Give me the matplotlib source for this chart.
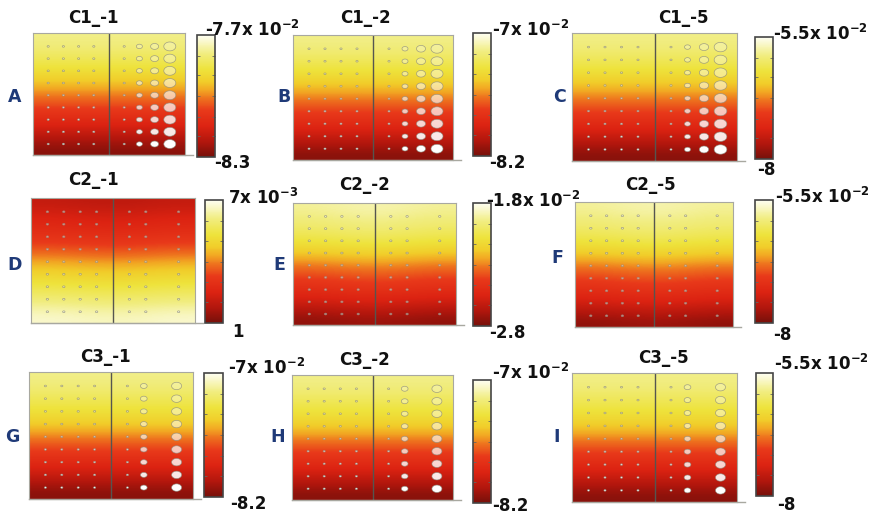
import numpy as np
import matplotlib
matplotlib.use('Agg')
import matplotlib.pyplot as plt
from matplotlib.colors import LinearSegmentedColormap, Normalize
from matplotlib.cm import ScalarMappable
from matplotlib.path import Path

W, H, DPI = 874, 519, 100

plt.rcParams['font.family'] = ['DejaVu Sans']
plt.rcParams['font.weight'] = 'bold'
plt.rcParams['mathtext.fontset'] = 'dejavusans'
plt.rcParams['mathtext.default'] = 'bf'

# panel text
titles = ['C1_-1', 'C1_-2', 'C1_-5',
          'C2_-1', 'C2_-2', 'C2_-5',
          'C3_-1', 'C3_-2', 'C3_-5']
letters = ['A', 'B', 'C', 'D', 'E', 'F', 'G', 'H', 'I']
cbar_max = ['-7.7x 10$^{-2}$', '-7x 10$^{-2}$', '-5.5x 10$^{-2}$',
            '7x 10$^{-3}$', '-1.8x 10$^{-2}$', '-5.5x 10$^{-2}$',
            '-7x 10$^{-2}$', '-7x 10$^{-2}$', '-5.5x 10$^{-2}$']
cbar_min = ['-8.3', '-8.2', '-8',
            '1', '-2.8', '-8',
            '-8.2', '-8.2', '-8']

# normalised field level down each plate (top edge -> bottom edge)
profile_c1 = [0.86, 0.82, 0.76, 0.69, 0.60, 0.50, 0.41, 0.32, 0.23, 0.13, 0.04]
profile_c2_1 = [0.18, 0.24, 0.29, 0.35, 0.43, 0.54, 0.64, 0.72, 0.80, 0.88, 0.95]
profile_c2 = [0.88, 0.84, 0.79, 0.72, 0.62, 0.50, 0.41, 0.33, 0.25, 0.15, 0.05]
profile_c3 = [0.86, 0.82, 0.76, 0.70, 0.62, 0.51, 0.41, 0.32, 0.23, 0.13, 0.04]
profiles = [profile_c1, profile_c1, profile_c1,
            profile_c2_1, profile_c2, profile_c2,
            profile_c3, profile_c3, profile_c3]
bows = [0.0, 0.0, 0.0, -0.03, 0.04, 0.04, 0.0, 0.0, 0.0]

# hole layout: column positions and hole widths (px)
hole_rows = [0.89, 0.79, 0.69, 0.59, 0.49, 0.39, 0.29, 0.19, 0.09]
c1_cols = [0.10, 0.20, 0.30, 0.40, 0.60, 0.70, 0.80, 0.90]
c2_cols = [0.10, 0.20, 0.30, 0.40, 0.60, 0.70, 0.90]
c3_cols = [0.10, 0.20, 0.30, 0.40, 0.60, 0.70, 0.90]
widths_c1_1 = [2.2, 2.2, 2.2, 2.2, 2.2, 6.0, 8.0, 12.0]
widths_c1_2 = [2.2, 2.2, 2.2, 2.2, 2.2, 6.0, 9.0, 12.0]
widths_c1_5 = [2.2, 2.2, 2.2, 2.2, 2.2, 6.0, 9.3, 12.7]
widths_c2 = [2.4, 2.4, 2.4, 2.4, 2.4, 2.4, 2.4]
widths_c3 = [2.2, 2.2, 2.2, 2.2, 2.2, 6.7, 10.0]
hole_cols = [c1_cols, c1_cols, c1_cols, c2_cols, c2_cols, c2_cols,
             c3_cols, c3_cols, c3_cols]
hole_widths = [widths_c1_1, widths_c1_2, widths_c1_5,
               widths_c2, widths_c2, widths_c2,
               widths_c3, widths_c3, widths_c3]

# pixel layout: plate box, colorbar box, title, letter, max label, min label
plate_box = [(33, 33, 185, 155), (293, 35, 453, 160), (572, 33, 737, 161),
             (31, 198, 195, 323), (293, 203, 456, 325), (575, 202, 733, 327),
             (29, 372, 193, 499), (292, 375, 453, 500), (572, 373, 737, 502)]
cbar_box = [(197, 35, 215, 157), (473, 33, 491, 156), (755, 37, 773, 159),
            (205, 200, 223, 323), (473, 203, 491, 326), (755, 200, 773, 323),
            (204, 373, 223, 497), (473, 380, 491, 503), (756, 373, 773, 496)]
title_xy = [(93, 18), (365, 18), (683, 18),
            (93, 180), (365, 185), (650, 185),
            (105, 357), (365, 360), (663, 358)]
letter_xy = [(15, 97), (284, 97), (559, 97),
             (15, 265), (279, 265), (557, 258),
             (12, 437), (278, 437), (557, 437)]
max_xy = [(205, 30), (492, 30), (773, 34),
          (228, 198), (486, 201), (775, 197),
          (228, 368), (492, 373), (774, 364)]
min_xy = [(214, 163), (489, 163), (757, 170),
          (232, 332), (489, 333), (773, 335),
          (230, 504), (492, 506), (777, 505)]

cmap = LinearSegmentedColormap.from_list('heat', [
    (0.00, '#76100a'), (0.12, '#b0160d'), (0.25, '#dc2312'),
    (0.38, '#e8391a'), (0.48, '#ee731e'), (0.55, '#f2a823'),
    (0.62, '#f1cd2a'), (0.72, '#eee33c'), (0.85, '#f1ed80'),
    (1.00, '#fefef4')])


def rect(box):
    x0, y0, x1, y1 = box
    return [x0 / W, 1 - y1 / H, (x1 - x0) / W, (y1 - y0) / H]


def fxy(x, y):
    return x / W, 1 - y / H


t = np.linspace(0, 2 * np.pi, 60)
hole_marker = Path(np.column_stack([1.35 * np.cos(t), np.sin(t)]), closed=True)

fig = plt.figure(figsize=(W / DPI, H / DPI), dpi=DPI)

for i in range(9):
    ax = fig.add_axes(rect(plate_box[i]))
    grid = np.add.outer(np.array(profiles[i]), bows[i] * np.array([0.0, 1.0, 0.0]))
    ax.imshow(grid, cmap=cmap, vmin=0, vmax=1, extent=[0, 1, 0, 1],
              aspect='auto', interpolation='bicubic', origin='upper')
    ax.set_xlim(0, 1)
    ax.set_ylim(0, 1)
    ax.set_xticks([])
    ax.set_yticks([])
    for s in ax.spines.values():
        s.set_color('#a8a8a0')
        s.set_linewidth(0.8)
    ax.axvline(0.5, color='#555550', lw=1.0)
    ax.plot([0, 1.05], [0, 0], color='#a8a8a0', lw=1.0, clip_on=False)

    # drilled holes
    xs, ys, sizes, faces = [], [], [], []
    for r, y in enumerate(hole_rows):
        alpha = 0.25 + 0.75 * r / (len(hole_rows) - 1)
        for x, w in zip(hole_cols[i], hole_widths[i]):
            xs.append(x)
            ys.append(y)
            sizes.append((w * 72 / DPI) ** 2)
            faces.append((1, 1, 1, alpha if i // 3 != 1 else 0.45))
    ax.scatter(xs, ys, s=sizes, marker=hole_marker, facecolors=faces,
               edgecolors=(0.55, 0.55, 0.5, 0.8), linewidths=0.5, zorder=3)

    cax = fig.add_axes(rect(cbar_box[i]))
    cb = fig.colorbar(ScalarMappable(norm=Normalize(0, 1), cmap=cmap), cax=cax)
    cb.set_ticks([0.17, 0.33, 0.5, 0.67, 0.83])
    cax.tick_params(direction='in', length=2.5, width=0.6, color='#666660',
                    left=True, right=True, labelleft=False, labelright=False)
    cb.outline.set_edgecolor('#454545')
    cb.outline.set_linewidth(1.2)

    fig.text(*fxy(*title_xy[i]), titles[i], ha='center', va='center',
             fontsize=12, fontweight='bold', color='#111111')
    fig.text(*fxy(*letter_xy[i]), letters[i], ha='center', va='center',
             fontsize=12.5, fontweight='bold', color='#1f3a78')
    fig.text(*fxy(*max_xy[i]), cbar_max[i], ha='left', va='center',
             fontsize=12, fontweight='bold', color='#111111')
    fig.text(*fxy(*min_xy[i]), cbar_min[i], ha='left', va='center',
             fontsize=12, fontweight='bold', color='#111111')

fig.savefig('out.png', dpi=DPI)
